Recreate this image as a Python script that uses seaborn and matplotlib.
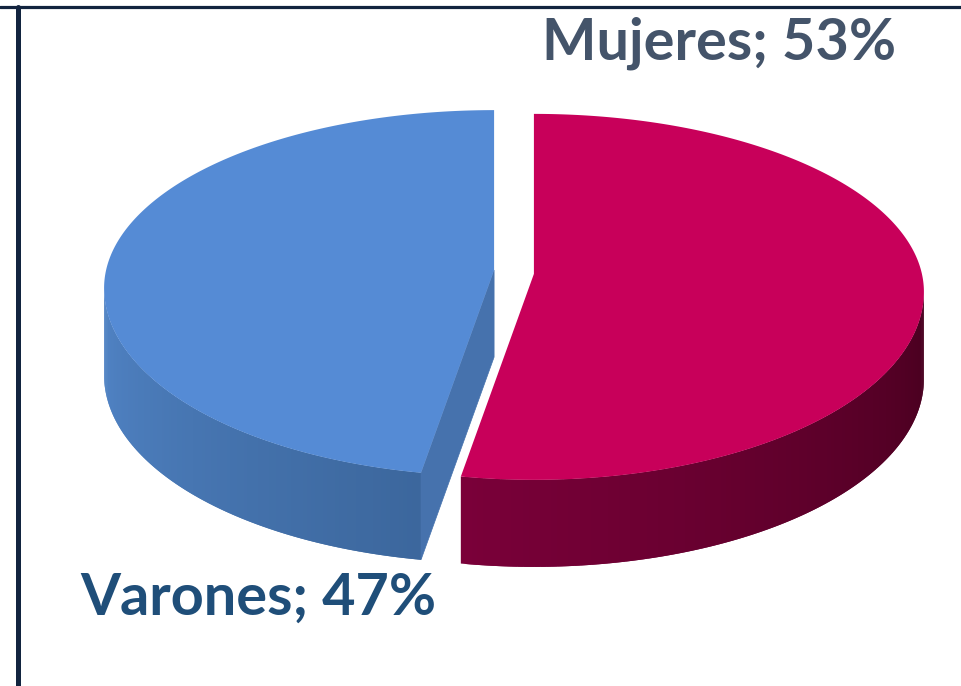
import numpy as np
import matplotlib.pyplot as plt
import seaborn as sns

# data
categories = ["Mujeres", "Varones"]
values = [53, 47]

# colours
top_colors = ["#C8005A", "#558BD5"]
wall_colors = [["#7A0039", "#48001F"], ["#5184C6", "#3C679D"]]
cut_colors = ["#5A0029", "#4672AD"]
label_colors = ["#44546A", "#1F4E79"]
label_pos = [(719, 59), (258, 615)]

sns.set_style("white")
plt.rcParams["font.family"] = ["Lato", "DejaVu Sans"]

# layout of the fake 3D pie (pixel units)
CX, CY = 514, 290
RX, RY_TOP, RY_BOT = 390, 178, 188
DEPTH = 87
LIFT = 18
EXPLODE = 20


def rim(t, cx, cy):
    t = np.radians(np.asarray(t, dtype=float))
    s = np.sin(t)
    ry = np.where(s > 0, RY_TOP, RY_BOT)
    return cx + RX * np.cos(t), cy - ry * s


def front_arc(lo, hi):
    # part of [lo, hi] that lies on the front half of the ellipse
    for k in (-1, 0, 1):
        a, b = max(lo, -180 + 360 * k), min(hi, 360 * k)
        if a < b:
            return a, b
    return None


fig = plt.figure(figsize=(9.61, 6.86), dpi=100)
ax = fig.add_axes([0, 0, 1, 1])
ax.set_xlim(0, 961)
ax.set_ylim(686, 0)
ax.axis("off")

fracs = np.array(values) / sum(values) * 360
start = 90
for i, cat in enumerate(categories):
    t_hi = start
    t_lo = start - fracs[i]
    start = t_lo
    mid = np.radians((t_hi + t_lo) / 2)
    cx = CX + EXPLODE * np.cos(mid)
    cy = CY - EXPLODE * np.sin(mid)
    apex = (cx, cy - LIFT)

    # outer wall with a shading gradient (strips overlap to hide seams)
    arc = front_arc(t_lo, t_hi)
    if arc is not None:
        ts = np.linspace(arc[0], arc[1], 121)
        cols = sns.blend_palette(wall_colors[i], len(ts) - 1)
        for j in range(len(ts) - 1):
            seg = np.linspace(ts[j], ts[min(j + 2, len(ts) - 1)], 4)
            xs, ys = rim(seg, cx, cy)
            ax.fill(np.r_[xs, xs[::-1]], np.r_[ys, ys[::-1] + DEPTH],
                    color=cols[j], lw=0)

    # cut faces
    for t, side in ((t_hi, 90), (t_lo, -90)):
        if np.sin(np.radians(t + side)) < -0.05:
            rx_, ry_ = rim(t, cx, cy)
            px = [apex[0], rx_, rx_, apex[0]]
            py = [apex[1], ry_, ry_ + DEPTH, apex[1] + DEPTH]
            ax.fill(px, py, color=cut_colors[i], lw=0.5, ec=cut_colors[i])

    # top face
    ts = np.linspace(t_hi, t_lo, 300)
    xs, ys = rim(ts, cx, cy)
    ax.fill(np.r_[apex[0], xs], np.r_[apex[1], ys], color=top_colors[i], lw=0)

    ax.text(label_pos[i][0], label_pos[i][1], f"{cat}; {values[i]}%",
            ha="center", va="baseline", fontsize=41.5, fontweight="bold",
            color=label_colors[i])

# frame lines
ax.axhline(7, color="#12243F", lw=2.3)
ax.axvline(17.5, ymin=0, ymax=1 - 7 / 686, color="#12243F", lw=3.6)

fig.savefig("out.png", dpi=100)
